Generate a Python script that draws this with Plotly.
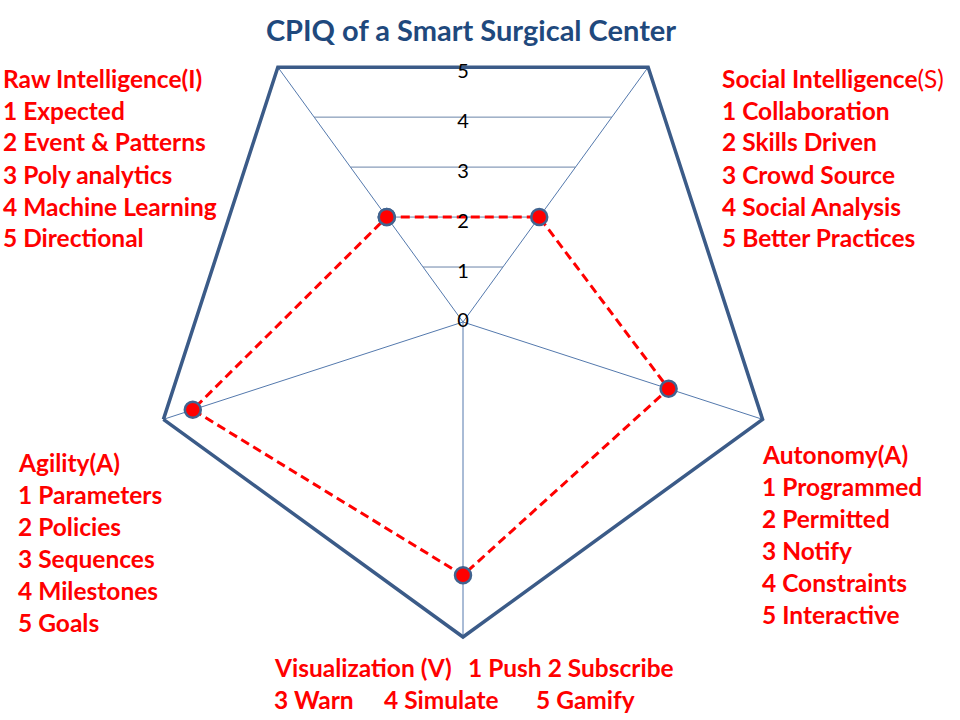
import math
import plotly.graph_objects as go

# ---- data ----
categories = ["Raw Intelligence", "Social Intelligence", "Autonomy", "Visualization", "Agility"]
values = [2, 2, 3.4, 4, 4.5]
radial_ticks = [0, 1, 2, 3, 4, 5]
partial_grid_levels = [1, 2, 3, 4]

title_text = "CPIQ of a Smart Surgical Center"
ri_lines = ["<b>Raw Intelligence(I)</b>", "<b>1 Expected</b>", "<b>2 Event &amp; Patterns</b>",
            "<b>3 Poly analytics</b>", "<b>4 Machine Learning</b>", "<b>5 Directional</b>"]
si_lines = ["<b>Social Intelligence</b>(S)", "<b>1 Collaboration</b>", "<b>2 Skills Driven</b>",
            "<b>3 Crowd Source</b>", "<b>4 Social Analysis</b>", "<b>5 Better Practices</b>"]
au_lines = ["<b>Autonomy(A)</b>", "<b>1 Programmed</b>", "<b>2 Permitted</b>",
            "<b>3 Notify</b>", "<b>4 Constraints</b>", "<b>5 Interactive</b>"]
ag_lines = ["<b>Agility(A)</b>", "<b>1 Parameters</b>", "<b>2 Policies</b>",
            "<b>3 Sequences</b>", "<b>4 Milestones</b>", "<b>5 Goals</b>"]
vis_row1 = ["<b>Visualization (V)</b>", "<b>1 Push 2 Subscribe</b>"]
vis_row2 = ["<b>3 Warn</b>", "<b>4 Simulate</b>", "<b>5 Gamify</b>"]

# ---- layout constants ----
W, H = 960, 720
CX, CY, R = 463, 322, 315
RMIN = -0.1
FONT = "Lato"
TEXT_SIZE = 24.5
RED = "#ff0000"
SPOKE = "#5479ad"
OUTER = "#3b5b88"
EDGE = math.cos(math.radians(36))  # polygon edge distance at mid-sector
LABEL_DROP = 0.1

def px(x):
    return x / W

def py(y):
    return 1 - y / H

domain = dict(x=[px(CX - R), px(CX + R)], y=[py(CY + R), py(CY - R)])

fig = go.Figure()

# partial gridlines between the two upper spokes
for k in partial_grid_levels:
    fig.add_trace(go.Scatterpolar(
        r=[k, k], theta=[categories[0], categories[1]], mode="lines",
        line=dict(color="#6a84a8", width=1), hoverinfo="skip", showlegend=False,
        subplot="polar"))

# data series
fig.add_trace(go.Scatterpolar(
    r=values + [values[0]], theta=categories + [categories[0]],
    mode="lines+markers",
    line=dict(color=RED, width=3, dash="9px,5px"),
    marker=dict(size=16, color=RED, line=dict(color="#41638f", width=2.5)),
    showlegend=False, subplot="polar"))

# radial tick labels on an overlaid numeric polar, placed on the polygon grid edge
label_r = [RMIN + (t - RMIN) * EDGE - LABEL_DROP for t in radial_ticks]
label_r = [max(v, RMIN) for v in label_r]
fig.add_trace(go.Scatterpolar(
    r=label_r, theta=[90] * len(radial_ticks), mode="text",
    text=[str(t) for t in radial_ticks],
    textfont=dict(family=FONT, size=20, color="#000000"),
    textposition="middle center", showlegend=False, hoverinfo="skip",
    subplot="polar2"))

fig.update_layout(
    width=W, height=H,
    margin=dict(l=0, r=0, t=0, b=0),
    paper_bgcolor="white",
    plot_bgcolor="white",
    polar=dict(
        domain=domain,
        bgcolor="rgba(0,0,0,0)",
        gridshape="linear",
        angularaxis=dict(type="category", direction="clockwise", rotation=126,
                         showticklabels=False, ticks="", showgrid=True,
                         gridcolor=SPOKE, gridwidth=1,
                         showline=True, linecolor=OUTER, linewidth=3.5),
        radialaxis=dict(range=[RMIN, 5], showgrid=False, showline=False,
                        showticklabels=False, ticks=""),
    ),
    polar2=dict(
        domain=domain,
        bgcolor="rgba(0,0,0,0)",
        angularaxis=dict(visible=False, direction="counterclockwise", rotation=0),
        radialaxis=dict(visible=False, range=[RMIN, 5]),
    ),
    title=dict(text="<b>" + title_text + "</b>", x=px(471), xanchor="center",
               y=py(31), yanchor="middle",
               font=dict(family=FONT, size=29, color="#1f497d")),
)

annotations = []

def add_block(lines, x0, y0, step=32):
    for i, t in enumerate(lines):
        annotations.append(dict(
            text=t, x=px(x0), y=py(y0 + i * step), xref="paper", yref="paper",
            xanchor="left", yanchor="middle", showarrow=False,
            font=dict(family=FONT, size=TEXT_SIZE, color=RED)))

add_block(ri_lines, 1, 78)
add_block(si_lines, 720, 78)
add_block(au_lines, 760, 454)
add_block(ag_lines, 16, 462)
for t, x in zip(vis_row1, [272, 466]):
    add_block([t], x, 667)
for t, x in zip(vis_row2, [272, 382, 534]):
    add_block([t], x, 699)

fig.update_layout(annotations=annotations)

fig.write_html("out.html", config={"displayModeBar": False},
               post_script="document.body.style.margin='0px';")
